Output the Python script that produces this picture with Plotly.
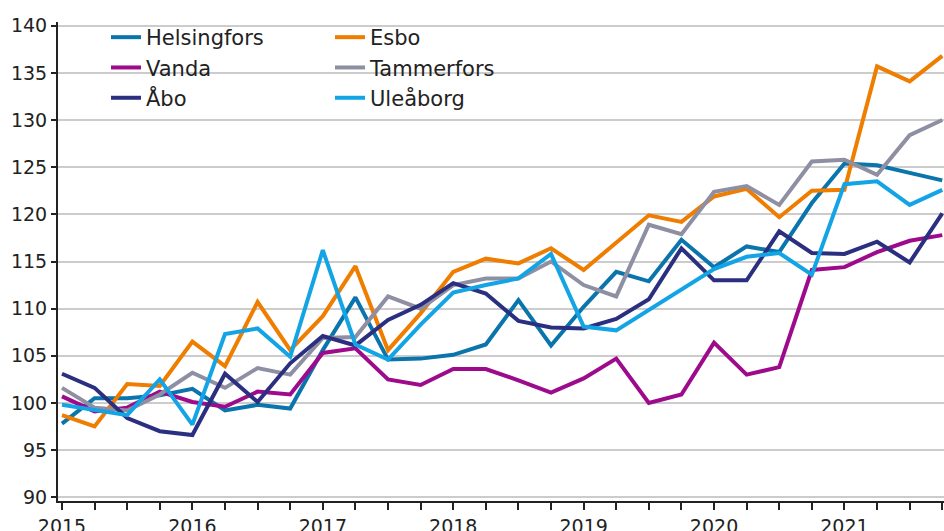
import plotly.graph_objects as go

quarters = [f"{y}Q{q}" for y in range(2015, 2022) for q in range(1, 5)]

helsingfors = [97.8, 100.5, 100.5, 100.8, 101.5, 99.2, 99.8, 99.4, 105.6, 111.2, 104.6, 104.7, 105.1, 106.2,
               110.9, 106.1, 110.2, 113.9, 112.9, 117.3, 114.4, 116.6, 116.0, 121.2, 125.4, 125.2, 124.4, 123.6]
esbo = [98.7, 97.5, 102.0, 101.8, 106.5, 103.9, 110.7, 105.6, 109.2, 114.5, 105.6, 109.5, 113.9, 115.3,
        114.8, 116.4, 114.1, 117.0, 119.9, 119.2, 121.9, 122.7, 119.7, 122.5, 122.6, 135.7, 134.1, 136.8]
vanda = [100.7, 99.1, 99.5, 101.2, 100.1, 99.6, 101.2, 100.9, 105.3, 105.8, 102.5, 101.9, 103.6, 103.6,
         102.4, 101.1, 102.6, 104.7, 100.0, 100.9, 106.4, 103.0, 103.8, 114.1, 114.4, 116.0, 117.2, 117.8]
tammerfors = [101.6, 99.5, 99.2, 100.9, 103.2, 101.6, 103.7, 103.0, 106.9, 107.0, 111.3, 110.0, 112.5, 113.2,
              113.2, 115.0, 112.5, 111.3, 118.9, 117.9, 122.4, 123.0, 121.0, 125.6, 125.8, 124.2, 128.4, 130.0]
abo = [103.1, 101.6, 98.4, 97.0, 96.6, 103.1, 100.1, 104.2, 107.1, 106.1, 108.8, 110.4, 112.7, 111.6,
       108.7, 108.0, 107.9, 108.9, 111.0, 116.4, 113.0, 113.0, 118.2, 115.9, 115.8, 117.1, 114.9, 120.1]
uleaborg = [99.8, 99.2, 98.7, 102.5, 97.7, 107.3, 107.9, 104.9, 116.2, 106.2, 104.6, 108.3, 111.7, 112.5,
            113.2, 115.8, 108.1, 107.7, 109.9, 112.0, 114.2, 115.5, 115.9, 113.6, 123.2, 123.5, 121.0, 122.6]

year_ticks = [2015, 2016, 2017, 2018, 2019, 2020, 2021]
y_ticks = [90, 95, 100, 105, 110, 115, 120, 125, 130, 135, 140]

x = [int(s[:4]) + (int(s[-1]) - 1) / 4 for s in quarters]

series = [
    ("Helsingfors", helsingfors, "#0A74AC", "legend"),
    ("Esbo", esbo, "#EE7D00", "legend2"),
    ("Vanda", vanda, "#9E0A8C", "legend"),
    ("Tammerfors", tammerfors, "#8F8FA3", "legend2"),
    ("Åbo", abo, "#2B2F7F", "legend"),
    ("Uleåborg", uleaborg, "#12A4E4", "legend2"),
]

fig = go.Figure()
for name, vals, color, leg in series:
    fig.add_trace(go.Scatter(x=x, y=vals, name=name, mode="lines",
                             line=dict(color=color, width=4), legend=leg))

font = dict(family="DejaVu Sans", size=19, color="#222222")
legfont = dict(family="DejaVu Sans", size=21, color="#222222")

fig.update_layout(
    width=944, height=531,
    margin=dict(l=58, r=0, t=22, b=30, autoexpand=False),
    plot_bgcolor="white", paper_bgcolor="white",
    font=font,
    legend=dict(x=(106 - 58) / 886, y=1.0104, xanchor="left", yanchor="top",
                bgcolor="rgba(0,0,0,0)", font=legfont, tracegroupgap=0,
                itemwidth=30),
    legend2=dict(x=(330 - 58) / 886, y=1.0104, xanchor="left", yanchor="top",
                 bgcolor="rgba(0,0,0,0)", font=legfont, tracegroupgap=0,
                 itemwidth=30),
    shapes=[dict(type="rect", xref="paper", yref="paper", x0=0, x1=(512 - 58) / 886,
                 y0=(501 - 110) / 479, y1=1, fillcolor="white", line=dict(width=0),
                 layer="between")],
)

fig.update_xaxes(
    automargin=False,
    range=[2015 - 4 / 131, 2015 + 886 / 131],
    tickvals=year_ticks, ticktext=[str(v) for v in year_ticks],
    ticks="outside", ticklen=7, tickwidth=1.5, tickcolor="#222222",
    minor=dict(dtick=0.25, tick0=2015, ticks="outside", ticklen=7, tickwidth=1.5,
               tickcolor="#222222", showgrid=False),
    showline=True, linecolor="#222222", linewidth=2,
    showgrid=False, zeroline=False, tickfont=font,
)
fig.update_yaxes(
    automargin=False,
    range=[89.6, 140.4],
    tickvals=y_ticks,
    ticks="outside", ticklen=5, tickwidth=1.5, tickcolor="#222222",
    showline=True, linecolor="#222222", linewidth=2,
    showgrid=True, gridcolor="#cccccc", gridwidth=1.5,
    zeroline=False, tickfont=font,
)

fig.write_html(
    "out.html",
    config={"displayModeBar": False},
    post_script="document.body.style.margin='0';document.body.style.overflow='hidden';",
)
